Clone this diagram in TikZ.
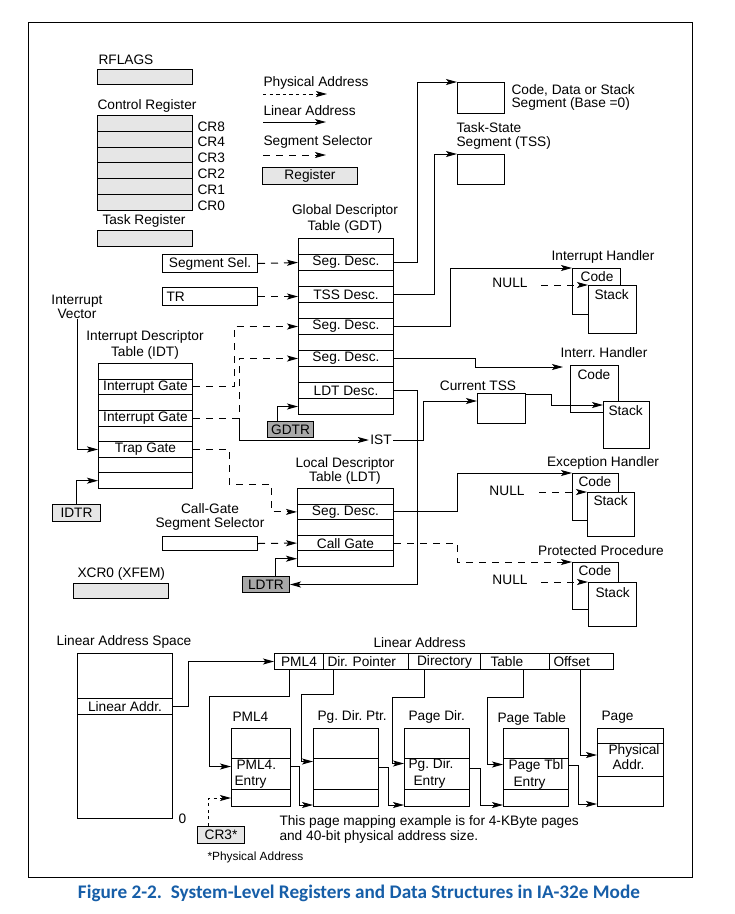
\documentclass[tikz,border=0pt]{standalone}
\usepackage{fontspec}
\usepackage{graphicx}
\setmainfont{Liberation Sans}
\newfontfamily\capfont{Carlito}
\usetikzlibrary{arrows.meta,calc}
\definecolor{lgray}{RGB}{230,230,230}
\definecolor{dgray}{RGB}{168,168,168}
\definecolor{capblue}{RGB}{22,94,168}
\frenchspacing
\newcommand{\fs}[1]{\fontsize{13.7}{#1}\selectfont\frenchspacing}
\begin{document}
\begin{tikzpicture}[x=1pt,y=-1pt,line width=1pt,
  every node/.style={inner sep=0pt, font=\fs{15}},
  cell/.style 2 args={draw, anchor=north west, minimum width=#1, minimum height=#2},
  reg/.style={fill=lgray},
  dreg/.style={fill=dgray},
  lin/.style={-{Stealth[length=11pt,width=6pt,inset=2.5pt]}},
  seg/.style={lin, dash pattern=on 7pt off 6pt},
  phys/.style={lin, dash pattern=on 3.3pt off 3.3pt},
]
\useasboundingbox (0,0) rectangle (735,914);
\fill[white] (0,0) rectangle (735,914);
\node[cell={664pt}{855pt}, line width=1.1pt] (frame) at (28,22) {};

% ---- registers (top left)
\node[anchor=west] (rflagsl) at (98,60) {RFLAGS};
\node[cell={95pt}{15pt}, reg] (rflags) at (97,69) {};
\node[anchor=west] (crl) at (97,106) {Control Register};
\foreach \t [count=\i from 0] in {CR8,CR4,CR3,CR2,CR1,CR0}{
  \node[cell={95pt}{15.83pt}, reg] (cr\i) at (97,{115+15.83*\i}) {};
  \node[anchor=west] (crn\i) at ([xshift=4pt,yshift=5.5pt]cr\i.south east) {\t};
}
\node[anchor=west] (trl) at (102,221) {Task Register};
\node[cell={95pt}{16pt}, reg] (treg) at (97,230) {};

% ---- legend
\node[anchor=west] (lgp) at (263,83) {Physical Address};
\coordinate (lgpa) at (263,94); \coordinate (lgpb) at (327,94);
\draw[phys] (lgpa) -- (lgpb);
\node[anchor=west] (lgl) at (263,111) {Linear Address};
\coordinate (lgla) at (263,122); \coordinate (lglb) at (326,122);
\draw[lin] (lgla) -- (lglb);
\node[anchor=west] (lgs) at (263,142) {Segment Selector};
\coordinate (lgsa) at (263,155); \coordinate (lgsb) at (326,155);
\draw[seg] (lgsa) -- (lgsb);
\node[cell={95pt}{17pt}, reg] (lgr) at (262,167) {Register};

% ---- segments
\node[cell={47pt}{31pt}] (cds) at (457,82) {};
\node[anchor=west, align=left, font=\fs{13.5}] (cdst) at (511,97.5) {Code, Data or Stack\\Segment (Base =0)};
\node[anchor=west, align=left, font=\fs{14}] (tsst) at (456,136) {Task-State\\Segment (TSS)};
\node[cell={47pt}{30pt}] (tss) at (457,154) {};

% ---- GDT
\node[align=center, font=\fs{16}] (gdtt) at (345,219) {Global Descriptor\\Table (GDT)};
\foreach \t [count=\i from 0] in {{},Seg. Desc.,{},TSS Desc.,{},Seg. Desc.,{},Seg. Desc.,{},LDT Desc.,{}}
  \node[cell={95pt}{16pt}] (gdt\i) at (298,{238+16*\i}) {\t};
\node[cell={46pt}{16pt}, dreg] (gdtr) at (267,421) {GDTR};

\node[cell={95pt}{18pt}] (segsel) at (162,254) {Segment Sel.};
\node[cell={95pt}{18pt}, text width=87pt, align=left] (tr) at (162,287) {TR};

% ---- IDT
\node[align=center, font=\fs{14}] (iv) at (77,307) {Interrupt\\Vector};
\node[align=center, font=\fs{16}] (idtt) at (145,345) {Interrupt Descriptor\\Table (IDT)};
\foreach \t [count=\i from 0] in {{},Interrupt Gate,{},Interrupt Gate,{},Trap Gate,{},{}}
  \node[cell={94pt}{15.625pt}] (idt\i) at (98,{363+15.625*\i}) {\t};
\node[cell={48pt}{17pt}, reg] (idtr) at (52,504) {IDTR};

\node[inner xsep=1pt] (ist) at (381,440) {IST};
\node (ctssl) at (478,386) {Current TSS};
\node[cell={48pt}{30pt}] (ctss) at (477,393) {};

% ---- handlers
\node (ih1l) at (603,257) {Interrupt Handler};
\node[cell={48pt}{46pt}] (ih1code) at (572,268) {};
\node (ih1codet) at (597,276.5) {Code};
\node[cell={48pt}{48pt}, fill=white] (ih1stack) at (588,285) {};
\node[anchor=west] (ih1stackt) at (594,295) {Stack};
\node (null1) at (510,283) {NULL};

\node (ih2l) at (604,353) {Interr. Handler};
\node[cell={48pt}{47pt}] (ih2code) at (570,365) {};
\node[anchor=west] (ih2codet) at (577,375) {Code};
\node[cell={46pt}{47pt}, fill=white] (ih2stack) at (603,401) {};
\node[anchor=west] (ih2stackt) at (608,411) {Stack};

\node (ehl) at (603,463) {Exception Handler};
\node[cell={46pt}{47pt}] (ehcode) at (572,473) {};
\node[anchor=west] (ehcodet) at (578,482) {Code};
\node[cell={47pt}{44pt}, fill=white] (ehstack) at (587,492) {};
\node[anchor=west] (ehstackt) at (593,501) {Stack};
\node (null2) at (507,491) {NULL};

\node (ppl) at (601,551) {Protected Procedure};
\node[cell={46pt}{47pt}] (ppcode) at (572,562) {};
\node[anchor=west] (ppcodet) at (578,571) {Code};
\node[cell={48pt}{44pt}, fill=white] (ppstack) at (588,582) {};
\node[anchor=west] (ppstackt) at (595,593) {Stack};
\node (null3) at (510,580) {NULL};

% ---- LDT
\node[align=center, font=\fs{14}] (ldtt) at (345,471) {Local Descriptor\\Table (LDT)};
\foreach \t [count=\i from 0] in {{},Seg. Desc.,{},Call Gate,{}}
  \node[cell={96pt}{15.6pt}] (ldt\i) at (297,{488+15.6*\i}) {\t};
\node[align=center, font=\fs{14}] (cgl) at (210,517) {Call-Gate\\Segment Selector};
\node[cell={95pt}{14pt}] (cgsel) at (162,536) {};
\node[cell={47pt}{16pt}, dreg] (ldtr) at (242,576) {LDTR};
\node[anchor=west] (xcrl) at (77,574) {XCR0 (XFEM)};
\node[cell={95pt}{15pt}, reg] (xcr) at (73,583) {};

% ---- connectors (segmentation)
\draw[lin] (gdt1.east) -- ++(23,0) |- (cds.north west);
\draw[lin] (gdt3.east) -- ++(40,0) |- (tss.north west);
\draw[lin] (gdt5.east) -- ++(56,0) |- (ih1code.north west);
\draw[lin] (gdt7.east) -- ++(81,0) |- ([xshift=-7pt,yshift=-2pt]ih2code.north west);
\draw[lin] (gdt9.east) -- ++(23,0) |- (ldtr.east);
\draw[lin] ([xshift=-13pt]gdtr.north) |- (gdt10.west);
\draw[seg] (segsel.east) -- (gdt1.west);
\draw[seg] (tr.east) -- (tr.east -| gdt3.west);
\draw[seg] (idt1.east) -- ++(41,0) |- (gdt5.west);
\coordinate (jn) at ($(idt3.east)+(46,0)$);
\draw[seg] (idt3.east) -- (jn) |- (gdt7.west);
\draw[lin] (jn) |- (ist.west);
\draw[lin] (ist.east) -- ++(30,0) |- ([yshift=-8pt]ctss.north west);
\draw[lin] ([yshift=-1pt]ctss.north east) -- ++(25,0) |- ([yshift=-4pt]ih2stack.north west);
\draw[seg] ([xshift=13pt]null1.east |- ih1stack.north) -- (ih1stack.north west);
\draw[lin] (ldt1.east) -- ++(63,0) |- (ehcode.north west);
\draw[seg] (ldt3.east) -- ++(63,0) |- (ppcode.north west);
\draw[seg] ([xshift=14pt]null2.east |- ehstack.north) -- (ehstack.north west);
\draw[seg] ([xshift=13pt]null3.east |- ppstack.north) -- (ppstack.north west);
\draw[seg] (cgsel.east) -- (ldt3.west);
\draw[lin] ([xshift=9.5pt]ldtr.north) |- (ldt4.west);
\draw[seg] (idt5.east) -- ++(36,0) -- ++(0,35) -- ++(42,0) |- (ldt1.west);
\draw[lin] (iv.south) |- (idt5.west);
\draw[lin] (idtr.north) |- (idt7.west);

% ---- paging
\node[anchor=west] (lasl) at (56,642) {Linear Address Space};
\node[cell={95pt}{45pt}] (las0) at (77,653) {};
\node[cell={95pt}{16pt}] (las1) at (77,698) {Linear Addr.};
\node[cell={95pt}{104pt}] (las2) at (77,714) {};
\node[anchor=west] (zero) at (178,819) {0};

\node[anchor=west] (lal) at (373,643) {Linear Address};
\node[cell={49pt}{16pt}] (la1) at (274,653) {PML4};
\node[cell={85pt}{16pt}, text width=77pt, align=left] (la2) at (323,653) {Dir. Pointer};
\node[cell={72pt}{16pt}] (la3) at (408,653) {Directory};
\node[cell={69pt}{16pt}, text width=49pt, align=left] (la4) at (480,653) {Table};
\node[cell={64pt}{16pt}, text width=56pt, align=left] (la5) at (549,653) {Offset};

\node[anchor=west] (pml4l) at (232,717) {PML4};
\node[cell={59pt}{30pt}] (pml40) at (231,728) {};
\node[cell={59pt}{31pt}] (pml41) at (231,758) {};
\node[cell={59pt}{17pt}] (pml42) at (231,789) {};
\node[anchor=west, align=left, font=\fs{16}] (pml4t) at (234,774) {\hspace*{2pt}PML4.\\Entry};

\node[anchor=west] (pdpl) at (317,717) {Pg. Dir. Ptr.};
\node[cell={65pt}{30pt}] (pdp0) at (313,728) {};
\node[cell={65pt}{31pt}] (pdp1) at (313,758) {};
\node[cell={65pt}{17pt}] (pdp2) at (313,789) {};

\node[anchor=west] (pdl) at (408,717) {Page Dir.};
\node[cell={65pt}{30pt}] (pd0) at (404,728) {};
\node[cell={65pt}{31pt}] (pd1) at (404,758) {};
\node[cell={65pt}{17pt}] (pd2) at (404,789) {};
\node[anchor=west, align=left, font=\fs{17}] (pdt) at (408,773.5) {Pg. Dir.\\\hspace*{5pt}Entry};

\node[anchor=west] (ptl) at (497,719) {Page Table};
\node[cell={65pt}{30pt}] (pt0) at (503,728) {};
\node[cell={65pt}{31pt}] (pt1) at (503,758) {};
\node[cell={65pt}{17pt}] (pt2) at (503,789) {};
\node[anchor=west, align=left, font=\fs{17}] (ptt) at (508,774.5) {Page Tbl\\\hspace*{5pt}Entry};

\node[anchor=west] (pgl) at (601,717) {Page};
\node[cell={66pt}{15pt}] (pg0) at (597,728) {};
\node[cell={66pt}{33pt}] (pg1) at (597,743) {};
\node[cell={66pt}{30pt}] (pg2) at (597,776) {};
\node[anchor=west, align=left, font=\fs{15}] (pgt) at (608,757.5) {Physical\\\hspace*{4pt}Addr.};

\node[cell={47pt}{17pt}, reg] (cr3) at (197,826) {CR3*};
\node[anchor=west, font=\fontsize{11.9}{13}\selectfont] (pa) at (207,857) {*Physical Address};
\node[anchor=west, align=left] (note) at (279,829.5) {This page mapping example is for 4-KByte pages\\and 40-bit physical address size.};

\draw[lin] (las1.east) -- ++(15,0) |- (la1.west);
\draw[lin] ([xshift=-9.5pt]la1.south) -- ++(0,26) -- ++(-80,0) |- ([yshift=7.5pt]pml41.west);
\draw[lin] ([xshift=-32.5pt]la2.south) -- ++(0,24) -- ++(-32,0) |- ([yshift=12.5pt]pdp1.west);
\draw[lin] ([xshift=-20pt]la3.south) -- ++(0,27) -- ++(-32,0) |- ([yshift=10.5pt]pd1.west);
\draw[lin] ([xshift=8.5pt]la4.south) -- ++(0,27) -- ++(-36,0) |- ([yshift=9.5pt]pt1.west);
\draw[lin] ([xshift=-1pt]la5.south) |- ([yshift=5pt]pg1.west);
\draw[lin] ([yshift=8pt]pml41.east) -- ++(8,0) |- ([yshift=2pt]pdp2.south west);
\draw[lin] ([yshift=6.5pt]pdp1.east) -- ++(9,0) |- ([yshift=2pt]pd2.south west);
\draw[lin] ([yshift=5.5pt]pd1.east) -- ++(10,0) |- ([yshift=2pt]pt2.south west);
\draw[lin] ([yshift=8.5pt]pt1.east) -- ++(9,0) |- ([yshift=3pt]pg2.south west);
\draw[phys] ([xshift=-12.5pt]cr3.north) |- (pml42.west);

% ---- caption
\node[text=capblue, font=\capfont\bfseries] (cap) at (359,893) {\resizebox{562pt}{!}{Figure 2-2.\ \ System-Level Registers and Data Structures in IA-32e Mode}};
\end{tikzpicture}
\end{document}
